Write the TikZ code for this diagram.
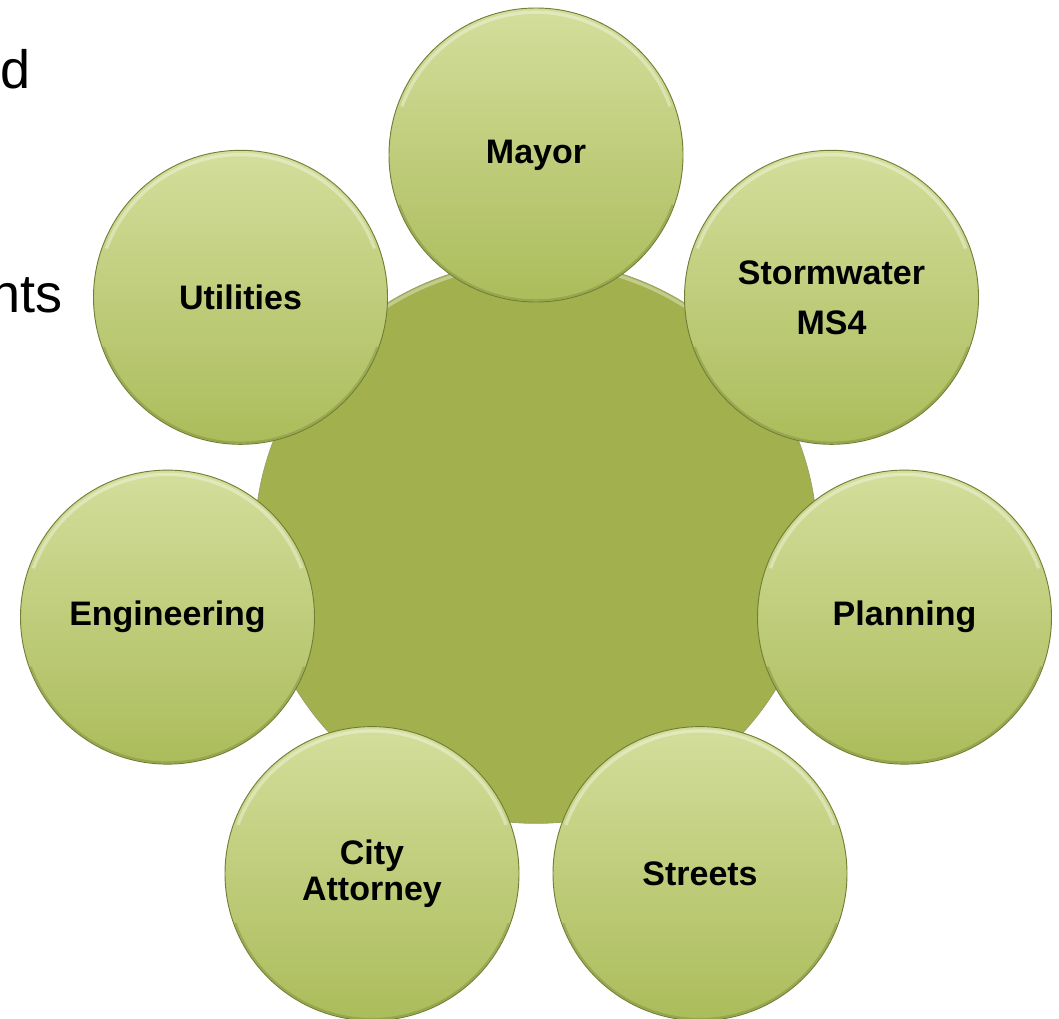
\documentclass[tikz,border=0pt]{standalone}
\usepackage{fontspec}
\setmainfont{Liberation Sans}
\definecolor{bigc}{HTML}{A2B04E}
\definecolor{otop}{HTML}{D3DE9B}
\definecolor{obot}{HTML}{ABBC5B}
\definecolor{edgec}{HTML}{7E8D3C}
\begin{document}
\begin{tikzpicture}[x=0.75pt,y=-0.75pt,
 hub/.style={circle, minimum size=422pt, inner sep=0pt, fill=bigc, draw=edgec!80, line width=0.6pt},
 dept/.style={circle, minimum size=220.5pt, inner sep=0pt, top color=otop, bottom color=obot, draw=edgec!90!black, line width=0.7pt, font=\fontsize{25.5pt}{27pt}\selectfont\bfseries, align=center, text=black},
 rim/.style={draw=white, opacity=0.35, line width=2.5pt},
 shade/.style={draw=edgec, opacity=0.45, line width=1.6pt},
 frag/.style={font=\fontsize{40.5pt}{48pt}\selectfont, anchor=base east, inner sep=0pt}]
\useasboundingbox (0,0) rectangle (1059,1018);
\clip (0,0) rectangle (1059,1018);
\node[frag] (t1) at (31,88) {d};
\node[frag] (t2) at (63,312) {nts};
\node[hub] (hub) at (536,542) {};
\draw[rim] (hub.center) ++(155:209pt) arc[start angle=155,end angle=25,radius=209pt];
\node[dept] (mayor) at (536,155) {Mayor};
\node[dept] (storm) at (831.5,297.3) {Stormwater\\[10.5pt]MS4};
\node[dept] (plan) at (904.5,617.1) {Planning};
\node[dept] (streets) at (700,873.6) {Streets};
\node[dept] (city) at (372,873.6) {City\\Attorney};
\node[dept] (eng) at (167.5,617.1) {Engineering};
\node[dept] (util) at (240.5,297.3) {Utilities};
\foreach \n in {mayor,storm,plan,streets,city,eng,util}{
  \draw[rim] (\n.center) ++(160:107pt) arc[start angle=160,end angle=20,radius=107pt];
  \draw[shade] (\n.center) ++(-160:109pt) arc[start angle=-160,end angle=-20,radius=109pt];
}
\end{tikzpicture}
\end{document}
